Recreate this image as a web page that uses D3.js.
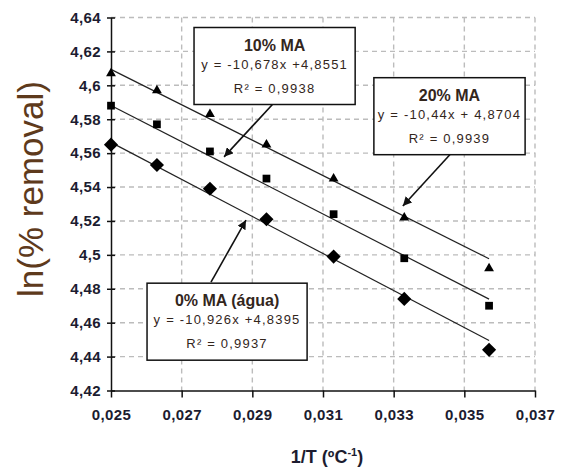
<!DOCTYPE html>
<html>
<head>
<meta charset="utf-8">
<script src="https://cdn.jsdelivr.net/npm/d3@7"></script>
<style>
  body { margin: 0; background: #fff; }
  svg { display: block; font-family: "Liberation Sans", Arial, sans-serif; }
</style>
</head>
<body>
<div id="Graph"></div>
<script>
// 1/T values (T = 40 ... 28 ºC)
var invT = [0.0250, 0.0263, 0.0278, 0.0294, 0.0313, 0.0333, 0.0357];

// ln(% removal) per series
var ma20 = [4.607, 4.597, 4.583, 4.565, 4.545, 4.522, 4.492];
var ma10 = [4.588, 4.577, 4.561, 4.545, 4.524, 4.498, 4.470];
var ma0 = [4.565, 4.553, 4.539, 4.521, 4.499, 4.474, 4.444];

// linear fits from the chart labels
var seriesNames = ["20% MA", "10% MA", "0% MA (água)"];
var slopes = [-10.44, -10.678, -10.926];
var intercepts = [4.8704, 4.8551, 4.8395];
var eqLabels = ["y = -10,44x + 4,8704", "y = -10,678x +4,8551", "y = -10,926x +4,8395"];
var r2Labels = ["R\u00b2 = 0,9939", "R\u00b2 = 0,9938", "R\u00b2 = 0,9937"];

var xTicks = [0.025, 0.027, 0.029, 0.031, 0.033, 0.035, 0.037];
var yTicks = [4.42, 4.44, 4.46, 4.48, 4.5, 4.52, 4.54, 4.56, 4.58, 4.6, 4.62, 4.64];

var W = 567, H = 473;
var margin = {top: 17.5, right: 32, bottom: 82.5, left: 111};
var width = W - margin.left - margin.right,
    height = H - margin.top - margin.bottom;

var x = d3.scaleLinear().domain([0.025, 0.037]).range([0, width]);
var y = d3.scaleLinear().domain([4.42, 4.64]).range([height, 0]);

var svg = d3.select("#Graph").append("svg")
    .attr("width", W)
    .attr("height", H);

var g = svg.append("g")
    .attr("transform", "translate(" + margin.left + "," + margin.top + ")");

function comma(v) { return String(+v.toFixed(3)).replace(".", ","); }

//dashed grid
g.selectAll(".hgrid")
    .data(yTicks.slice(1))
    .enter().append("line")
    .attr("x1", 0).attr("x2", width)
    .attr("y1", function (d) { return y(d); })
    .attr("y2", function (d) { return y(d); })
    .attr("stroke", "#bcbcbc").attr("stroke-width", 1.4)
    .attr("stroke-dasharray", "5,4");

g.selectAll(".vgrid")
    .data(xTicks.slice(1))
    .enter().append("line")
    .attr("y1", 0).attr("y2", height)
    .attr("x1", function (d) { return x(d); })
    .attr("x2", function (d) { return x(d); })
    .attr("stroke", "#bcbcbc").attr("stroke-width", 1.4)
    .attr("stroke-dasharray", "5,4");

//axes
var xAxis = g.append("g")
    .attr("transform", "translate(0," + height + ")")
    .call(d3.axisBottom(x).tickValues(xTicks).tickFormat(comma).tickSize(7).tickPadding(12).tickSizeOuter(0));

var yAxis = g.append("g")
    .call(d3.axisLeft(y).tickValues(yTicks).tickFormat(comma).tickSize(4).tickPadding(6).tickSizeOuter(0));

// ticks crossing the y axis
yAxis.selectAll(".tick line").attr("x2", 4).attr("x1", -4);

[xAxis, yAxis].forEach(function (a) {
    a.select(".domain").attr("stroke", "#111").attr("stroke-width", 1.5);
    a.selectAll(".tick line").attr("stroke", "#111").attr("stroke-width", 1.5);
    a.selectAll(".tick text")
        .attr("fill", "#1c1c30")
        .style("font-size", "15px")
        .style("font-weight", "bold")
        .style("letter-spacing", "0.4px");
});

//trend lines
g.selectAll(".trend")
    .data(slopes)
    .enter().append("line")
    .attr("x1", x(invT[0]))
    .attr("x2", x(invT[invT.length - 1]))
    .attr("y1", function (d, i) { return y(d * invT[0] + intercepts[i]); })
    .attr("y2", function (d, i) { return y(d * invT[invT.length - 1] + intercepts[i]); })
    .attr("stroke", "#222")
    .attr("stroke-width", 1.2);

//markers
var series = [
    {values: ma20, symbol: d3.symbolTriangle, size: 42, rot: 0},
    {values: ma10, symbol: d3.symbolSquare, size: 60, rot: 0},
    {values: ma0, symbol: d3.symbolSquare, size: 100, rot: 45}
];

series.forEach(function (s) {
    g.selectAll(null)
        .data(s.values)
        .enter().append("path")
        .attr("d", d3.symbol().type(s.symbol).size(s.size))
        .attr("transform", function (d, i) {
            return "translate(" + x(invT[i]) + "," + y(d) + ") rotate(" + s.rot + ")";
        })
        .attr("fill", "#000");
});

//annotation boxes (positions in data units)
var boxes = [
    {x0: 0.03244, x1: 0.03672, yTop: 4.6045, from: [0.03459, 4.5590], to: [0.03326, 4.5288]},
    {x0: 0.02735, x1: 0.03191, yTop: 4.6341, from: [0.02964, 4.5903], to: [0.02820, 4.5578]},
    {x0: 0.02602, x1: 0.03055, yTop: 4.4833, from: [0.02783, 4.4839], to: [0.02882, 4.5205]}
];

svg.append("defs").append("marker")
    .attr("id", "arrow")
    .attr("viewBox", "0 0 10 10")
    .attr("refX", 10).attr("refY", 5)
    .attr("markerWidth", 9).attr("markerHeight", 9)
    .attr("markerUnits", "userSpaceOnUse")
    .attr("orient", "auto")
    .append("path")
    .attr("d", "M0,0 L10,5 L0,10 z")
    .attr("fill", "#111");

boxes.forEach(function (b, i) {
    g.append("line")
        .attr("x1", x(b.from[0])).attr("y1", y(b.from[1]))
        .attr("x2", x(b.to[0])).attr("y2", y(b.to[1]))
        .attr("stroke", "#111").attr("stroke-width", 1.6)
        .attr("marker-end", "url(#arrow)");

    var bx = x(b.x0), by = y(b.yTop), bw = x(b.x1) - x(b.x0);
    var box = g.append("g").attr("transform", "translate(" + bx + "," + by + ")");
    box.append("rect")
        .attr("width", bw).attr("height", 77)
        .attr("fill", "#fff")
        .attr("stroke", "#111").attr("stroke-width", 1.5);
    box.append("text")
        .attr("x", bw / 2).attr("y", 23)
        .attr("text-anchor", "middle")
        .style("font-size", "16px").style("font-weight", "bold")
        .attr("fill", "#33261c")
        .text(seriesNames[i]);
    box.append("text")
        .attr("x", bw / 2).attr("y", 41)
        .attr("text-anchor", "middle")
        .style("font-size", "13px").style("letter-spacing", "1.2px")
        .attr("fill", "#33261c")
        .text(eqLabels[i]);
    box.append("text")
        .attr("x", bw / 2).attr("y", 65)
        .attr("text-anchor", "middle")
        .style("font-size", "13px").style("letter-spacing", "1.2px")
        .attr("fill", "#33261c")
        .text(r2Labels[i]);
});

//axis titles
var xt = svg.append("text")
    .attr("x", margin.left + width / 2 + 4)
    .attr("y", 463)
    .attr("text-anchor", "middle")
    .attr("fill", "#1c1c30")
    .style("font-size", "18px").style("font-weight", "bold");
xt.append("tspan").text("1/T (\u00baC");
xt.append("tspan").attr("dy", -7).style("font-size", "11px").text("-1");
xt.append("tspan").attr("dy", 7).text(")");

svg.append("text")
    .attr("transform", "translate(43,189) rotate(-90)")
    .attr("text-anchor", "middle")
    .attr("fill", "#5e3a1c")
    .style("font-size", "35px")
    .text("ln(% removal)");
</script>
</body>
</html>
